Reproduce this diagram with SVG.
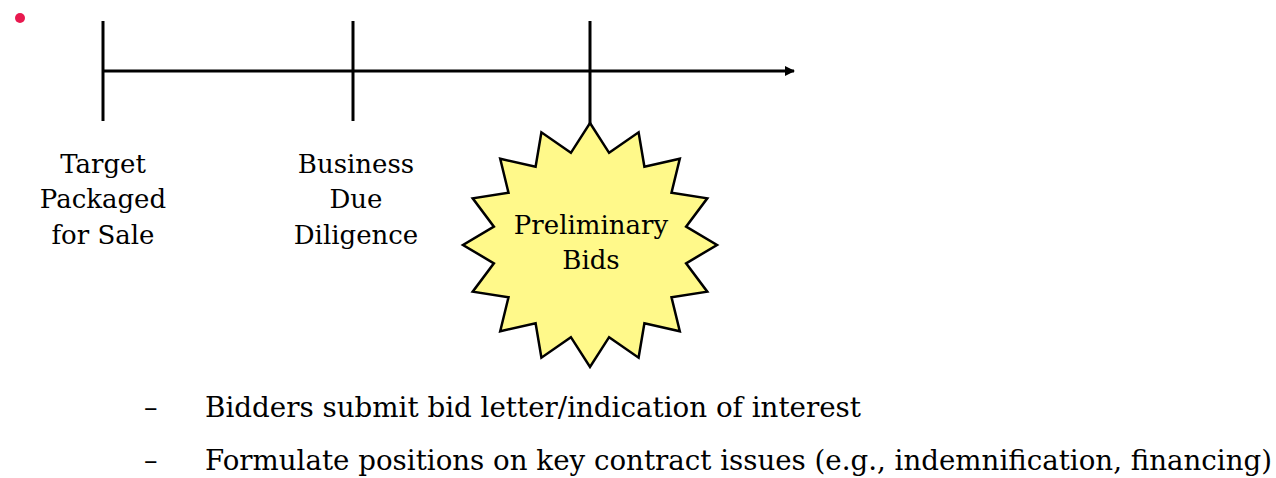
<svg xmlns="http://www.w3.org/2000/svg" width="1276" height="478" viewBox="0 0 1276 478">
<style>
.t{font-family:"DejaVu Serif",serif;font-size:26px;fill:#000;text-anchor:middle}
.b{font-family:"DejaVu Serif",serif;font-size:27px;fill:#000}
.ln{stroke:#000;stroke-width:3;fill:none}
</style>
<defs>
<marker id="ah" markerWidth="10" markerHeight="10" refX="9" refY="5" orient="auto" markerUnits="userSpaceOnUse">
<path d="M0,0 L10,5 L0,10 Z" fill="#000"/>
</marker>
</defs>
<rect width="1276" height="478" fill="#fff"/>
<circle cx="20" cy="18" r="5" fill="#e8194f"/>
<g id="connectors">
<line class="ln" x1="103" y1="71" x2="794" y2="71" marker-end="url(#ah)"/>
<line class="ln" x1="103" y1="21" x2="103" y2="121"/>
<line class="ln" x1="353" y1="21" x2="353" y2="121"/>
<line class="ln" x1="590" y1="21" x2="590" y2="124"/>
</g>
<g id="node-target">
<text class="t" x="103" y="173">Target</text>
<text class="t" x="103" y="208">Packaged</text>
<text class="t" x="103" y="244">for Sale</text>
</g>
<g id="node-business">
<text class="t" x="356" y="173">Business</text>
<text class="t" x="356" y="208">Due</text>
<text class="t" x="356" y="244">Diligence</text>
</g>
<g id="node-preliminary">
<polygon points="590,123 609.1,152.8 638.6,132.3 644.4,166.8 679.8,158.7 671.5,192.8 707.3,198.3 686.1,226.7 717,245 686.1,263.3 707.3,291.7 671.5,297.2 679.8,331.3 644.4,323.2 638.6,357.7 609.1,337.2 590,367 570.9,337.2 541.4,357.7 535.6,323.2 500.2,331.3 508.5,297.2 472.7,291.7 493.9,263.3 463,245 493.9,226.7 472.7,198.3 508.5,192.8 500.2,158.7 535.6,166.8 541.4,132.3 570.9,152.8" fill="#fff98a" stroke="#000" stroke-width="2.5" stroke-linejoin="miter"/>
<text class="t" x="591" y="234">Preliminary</text>
<text class="t" x="591" y="269">Bids</text>
</g>
<g id="bullets">
<text class="b" x="144" y="417">–</text>
<text class="b" x="205" y="417" textLength="656" lengthAdjust="spacingAndGlyphs">Bidders submit bid letter/indication of interest</text>
<text class="b" x="144" y="470">–</text>
<text class="b" x="205" y="470" textLength="1067" lengthAdjust="spacingAndGlyphs">Formulate positions on key contract issues (e.g., indemnification, financing)</text>
</g>
</svg>
